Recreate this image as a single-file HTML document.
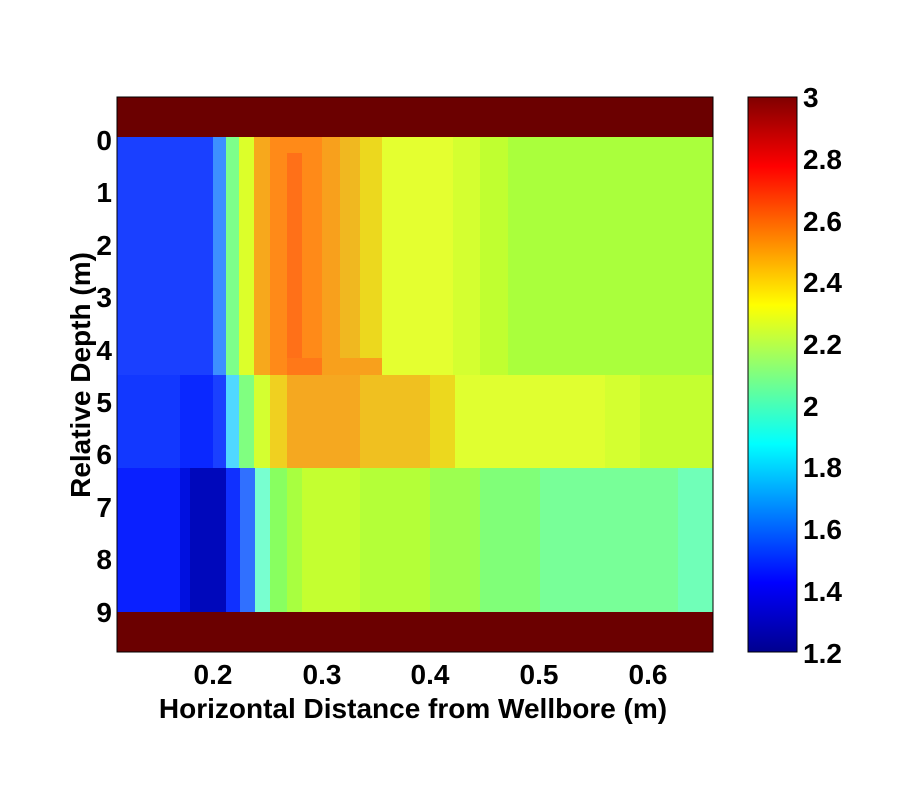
<!DOCTYPE html>
<html><head><meta charset="utf-8"><style>body{margin:0;background:#fff}svg{display:block}text{font-family:"Liberation Sans",sans-serif;font-weight:bold;font-size:28px;fill:#000}</style></head><body>
<svg width="900" height="800" xmlns="http://www.w3.org/2000/svg">
<defs><linearGradient id="jet" x1="0" y1="1" x2="0" y2="0">
<stop offset="0" stop-color="#00008f"/><stop offset="0.125" stop-color="#0000ff"/><stop offset="0.375" stop-color="#00ffff"/><stop offset="0.625" stop-color="#ffff00"/><stop offset="0.875" stop-color="#ff0000"/><stop offset="1" stop-color="#800000"/></linearGradient></defs>
<rect x="117" y="97" width="596" height="555" fill="#6b0000"/>
<g shape-rendering="crispEdges">
<rect x="117" y="137" width="96" height="238" fill="#1a40ff"/>
<rect x="213" y="137" width="13" height="238" fill="#3d8fff"/>
<rect x="226" y="137" width="13" height="238" fill="#7dff8a"/>
<rect x="239" y="137" width="15" height="238" fill="#dcff2a"/>
<rect x="254" y="137" width="16" height="238" fill="#f7a81c"/>
<rect x="270" y="137" width="52" height="238" fill="#ff8a18"/>
<rect x="287" y="153" width="15" height="222" fill="#ff7018"/>
<rect x="322" y="137" width="18" height="238" fill="#f8a01c"/>
<rect x="340" y="137" width="20" height="238" fill="#f0b820"/>
<rect x="360" y="137" width="22" height="238" fill="#ecd81e"/>
<rect x="382" y="137" width="71" height="238" fill="#e4ff30"/>
<rect x="453" y="137" width="27" height="238" fill="#d4ff30"/>
<rect x="480" y="137" width="28" height="238" fill="#c0ff30"/>
<rect x="508" y="137" width="205" height="238" fill="#aaff3c"/>
<rect x="287" y="358" width="35" height="17" fill="#ff7818"/>
<rect x="322" y="358" width="60" height="17" fill="#f8a01c"/>
<rect x="117" y="375" width="96" height="93" fill="#1238ff"/>
<rect x="180" y="375" width="33" height="93" fill="#0a28ff"/>
<rect x="213" y="375" width="13" height="93" fill="#1a40ff"/>
<rect x="226" y="375" width="13" height="93" fill="#50d8ff"/>
<rect x="239" y="375" width="15" height="93" fill="#80ff80"/>
<rect x="254" y="375" width="16" height="93" fill="#d4ff30"/>
<rect x="270" y="375" width="17" height="93" fill="#f0d020"/>
<rect x="287" y="375" width="73" height="93" fill="#f5a820"/>
<rect x="360" y="375" width="70" height="93" fill="#f0c020"/>
<rect x="430" y="375" width="25" height="93" fill="#ecd81e"/>
<rect x="455" y="375" width="150" height="93" fill="#e0ff30"/>
<rect x="605" y="375" width="35" height="93" fill="#d4ff30"/>
<rect x="640" y="375" width="73" height="93" fill="#c4ff30"/>
<rect x="117" y="468" width="63" height="144" fill="#0a20ff"/>
<rect x="180" y="468" width="10" height="144" fill="#0010e0"/>
<rect x="190" y="468" width="36" height="144" fill="#0008bb"/>
<rect x="226" y="468" width="14" height="144" fill="#1030ff"/>
<rect x="240" y="468" width="15" height="144" fill="#3070ff"/>
<rect x="255" y="468" width="15" height="144" fill="#78ffd0"/>
<rect x="270" y="468" width="17" height="144" fill="#88ff60"/>
<rect x="287" y="468" width="15" height="144" fill="#a8ff40"/>
<rect x="302" y="468" width="58" height="144" fill="#c4ff30"/>
<rect x="360" y="468" width="70" height="144" fill="#b4ff38"/>
<rect x="430" y="468" width="50" height="144" fill="#9cff50"/>
<rect x="480" y="468" width="60" height="144" fill="#80ff78"/>
<rect x="540" y="468" width="138" height="144" fill="#78ff98"/>
<rect x="678" y="468" width="35" height="144" fill="#70ffb8"/>
</g>
<rect x="117" y="97" width="596" height="555" fill="none" stroke="#000" stroke-width="1"/>
<g text-anchor="end">
<text x="112" y="150">0</text><text x="112" y="202">1</text><text x="112" y="255">2</text><text x="112" y="307">3</text><text x="112" y="360">4</text><text x="112" y="412">5</text><text x="112" y="464">6</text><text x="112" y="517">7</text><text x="112" y="569">8</text><text x="112" y="622">9</text>
</g>
<g text-anchor="middle">
<text x="213" y="684">0.2</text><text x="322" y="684">0.3</text><text x="430" y="684">0.4</text><text x="539" y="684">0.5</text><text x="648" y="684">0.6</text>
<text x="413" y="718">Horizontal Distance from Wellbore (m)</text>
<text transform="translate(90,375) rotate(-90)">Relative Depth (m)</text>
</g>
<rect x="748" y="97" width="49" height="555" fill="url(#jet)" stroke="#000" stroke-width="1"/>
<g>
<text x="803" y="107">3</text><text x="803" y="169">2.8</text><text x="803" y="231">2.6</text><text x="803" y="292">2.4</text><text x="803" y="354">2.2</text><text x="803" y="416">2</text><text x="803" y="477">1.8</text><text x="803" y="539">1.6</text><text x="803" y="601">1.4</text><text x="803" y="663">1.2</text>
</g>
</svg>
</body></html>
